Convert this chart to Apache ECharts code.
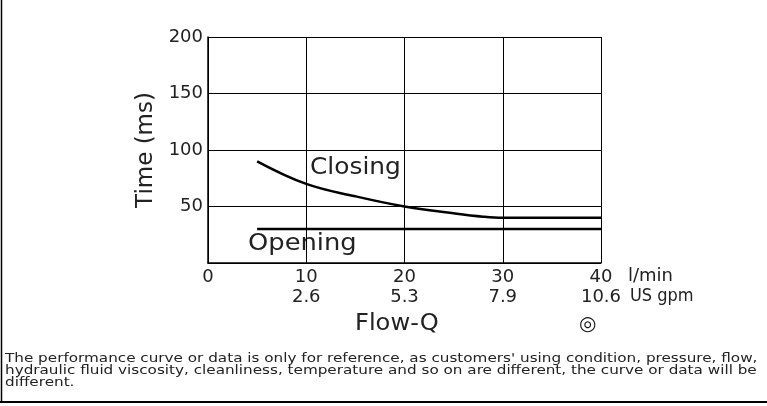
<!DOCTYPE html>
<html>
<head>
<meta charset="utf-8">
<script src="https://cdn.jsdelivr.net/npm/echarts@6/dist/echarts.min.js"></script>
<style>
  html, body { margin: 0; padding: 0; background: #fff; }
  #main { width: 767px; height: 406px; }
</style>
</head>
<body>
<div id="main"></div>
<script>
// flow in l/min, times in ms
var flowTicks = [0, 10, 20, 30, 40];
var gpmTicks = ['', '2.6', '5.3', '7.9', '10.6'];
var closingFlow = [5, 10, 15, 20, 25, 28, 30, 40];
var closingTime = [90, 70, 59, 50, 44, 41, 40, 40];
var openingFlow = [5, 40];
var openingTime = [30, 30];

var FONT = 'DejaVu Sans';
var note = "The performance curve or data is only for reference, as customers' using condition, pressure, flow,\n" +
    "hydraulic fluid viscosity, cleanliness, temperature and so on are different, the curve or data will be\n" +
    "different.";

function pairs(xs, ys) {
    return xs.map(function (x, i) { return [x, ys[i]]; });
}

var chart = echarts.init(document.getElementById('main'));

var option = {
    animation: false,
    textStyle: { fontFamily: FONT },
    grid: { left: 208, right: 166, top: 37, bottom: 143 },
    xAxis: {
        type: 'value',
        min: 0,
        max: 40,
        interval: 10,
        axisLine: { lineStyle: { color: '#000', width: 1.5 } },
        axisTick: { show: false },
        splitLine: { show: true, lineStyle: { color: '#000', width: 1 } },
        axisLabel: {
            margin: 4,
            color: '#222',
            fontSize: 18,
            lineHeight: 20,
            formatter: function (v) {
                var i = flowTicks.indexOf(v);
                return gpmTicks[i] ? v + '\n' + gpmTicks[i] : v + '\n ';
            }
        }
    },
    yAxis: {
        type: 'value',
        min: 0,
        max: 200,
        interval: 50,
        name: 'Time (ms)',
        nameLocation: 'middle',
        nameGap: 50,
        nameTextStyle: { fontSize: 23, color: '#222' },
        axisLine: { show: true, lineStyle: { color: '#000', width: 1.5 } },
        axisTick: { show: false },
        splitLine: { show: true, lineStyle: { color: '#000', width: 1 } },
        axisLabel: { margin: 5, color: '#222', fontSize: 18, showMinLabel: false }
    },
    series: [
        {
            name: 'Closing',
            type: 'line',
            smooth: 0.4,
            symbol: 'none',
            lineStyle: { color: '#000', width: 2.5 },
            data: pairs(closingFlow, closingTime)
        },
        {
            name: 'Opening',
            type: 'line',
            symbol: 'none',
            lineStyle: { color: '#000', width: 2.5 },
            data: pairs(openingFlow, openingTime)
        }
    ],
    graphic: [
        { type: 'line', shape: { x1: 1.5, y1: 0, x2: 1.5, y2: 403 }, style: { stroke: '#000', lineWidth: 1.5 } },
        { type: 'line', shape: { x1: 0, y1: 402, x2: 767, y2: 402 }, style: { stroke: '#000', lineWidth: 2 } },
        { type: 'text', left: 310, top: 157, scaleX: 1.08, style: { text: 'Closing', fontSize: 23, fill: '#222', fontFamily: FONT } },
        { type: 'text', left: 248, top: 233, scaleX: 1.12, style: { text: 'Opening', fontSize: 23, fill: '#222', fontFamily: FONT } },
        { type: 'text', left: 628, top: 267, style: { text: 'l/min', fontSize: 18, fill: '#222', fontFamily: FONT } },
        { type: 'text', left: 630, top: 287, scaleX: 0.9, style: { text: 'US gpm', fontSize: 18, fill: '#222', fontFamily: FONT } },
        { type: 'text', left: 355, top: 313, scaleX: 1.05, style: { text: 'Flow-Q', fontSize: 23, fill: '#222', fontFamily: FONT } },
        { type: 'text', left: 579, top: 315, style: { text: '◎', fontSize: 20, fill: '#111', fontFamily: FONT } },
        { type: 'text', left: 5, top: 352, scaleX: 1.17, style: { text: note, fontSize: 13, lineHeight: 12, fill: '#222', fontFamily: FONT } }
    ]
};

chart.setOption(option);
</script>
</body>
</html>
